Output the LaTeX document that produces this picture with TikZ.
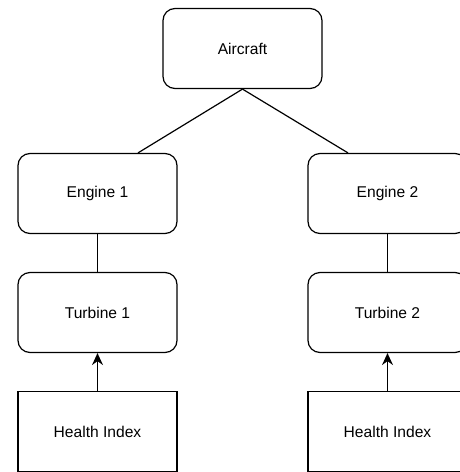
\documentclass[tikz,border=0pt]{standalone}
\usepackage{fontspec}
\setmainfont{Liberation Sans}
\usetikzlibrary{arrows.meta}

\begin{document}
\begin{tikzpicture}[x=1pt, y=-1pt, line width=1.2pt, >={Stealth[length=12pt,width=11pt,inset=4pt]},
  part/.style={draw, rounded corners=12pt, minimum width=159pt, minimum height=80pt, inner sep=0pt,
    font=\fontsize{15.6}{18}\selectfont},
  index/.style={part, rounded corners=0pt}]
  \useasboundingbox (0,0) rectangle (459,472);
  \node[part] (aircraft) at (242.5,48.5) {Aircraft};
  \node[part] (engineA) at (97.5,193.5) {Engine 1};
  \node[part] (engineB) at (387.5,193.5) {Engine 2};
  \node[part] (turbineA) at (97.5,312.5) {Turbine 1};
  \node[part] (turbineB) at (387.5,312.5) {Turbine 2};
  \node[index] (healthA) at (97.5,431.5) {Health Index};
  \node[index] (healthB) at (387.5,431.5) {Health Index};
  \coordinate (engineAtop) at ([xshift=40.5pt]engineA.north);
  \coordinate (engineBtop) at ([xshift=-39.5pt]engineB.north);
  \draw (aircraft.south) -- (engineAtop);
  \draw (aircraft.south) -- (engineBtop);
  \draw (engineA) -- (turbineA);
  \draw (engineB) -- (turbineB);
  \draw[->] (healthA) -- (turbineA);
  \draw[->] (healthB) -- (turbineB);
\end{tikzpicture}
\end{document}
